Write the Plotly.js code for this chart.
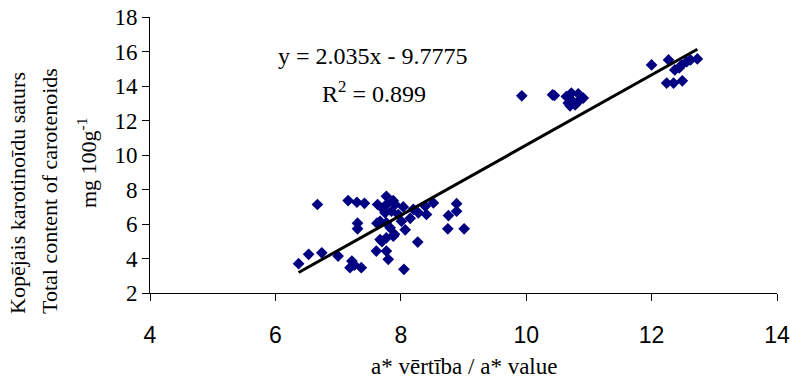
<!DOCTYPE html>
<html>
<head>
<meta charset="utf-8">
<script src="https://cdn.plot.ly/plotly-3.0.1.min.js"></script>
<style>html,body{margin:0;padding:0;background:#fff;}#chart{width:790px;height:378px;}</style>
</head>
<body>
<div id="chart"></div>
<script>
// a* values and total carotenoid content (mg 100g-1)
const aValues = [
  6.37, 6.53, 6.74, 6.67, 7.00, 7.22, 7.19, 7.26, 7.37, 7.16,
  7.30, 7.42, 7.31, 7.31, 7.63, 7.77, 7.77, 7.91, 8.04, 7.75,
  7.85, 7.96, 7.67, 7.77, 7.62, 8.01, 8.15, 7.83, 8.07, 7.67,
  7.77, 7.88, 7.61, 7.77, 7.80, 8.05, 8.28, 8.39, 8.41, 8.52,
  8.27, 8.89, 8.89, 8.76, 8.75, 9.01, 7.72, 7.88, 7.70, 7.90,
  8.20,
  9.93, 10.42, 10.45, 10.64, 10.72, 10.83, 10.91, 10.67, 10.78, 10.83,
  10.72, 10.70,
  12.00, 12.27, 12.37, 12.48, 12.56, 12.73, 12.24, 12.35, 12.49, 12.62,
  12.44
];
const carotenoids = [
  3.70, 4.24, 4.33, 7.13, 4.14, 3.85, 3.47, 3.62, 3.47, 7.36,
  7.26, 7.20, 6.05, 5.72, 7.13, 7.61, 7.13, 7.13, 6.99, 6.65,
  6.74, 6.55, 6.16, 6.07, 6.05, 6.16, 6.33, 5.78, 5.66, 5.10,
  5.20, 5.29, 4.43, 4.43, 3.95, 3.37, 6.65, 7.03, 6.55, 7.22,
  4.95, 7.18, 6.74, 6.49, 5.72, 5.72, 6.85, 7.35, 4.98, 5.40,
  6.85,
  13.43, 13.49, 13.45, 13.39, 13.59, 13.55, 13.30, 13.01, 12.91, 13.10,
  13.20, 12.85,
  15.22, 15.51, 14.93, 15.22, 15.41, 15.57, 14.17, 14.17, 14.30, 15.51,
  15.05
];
const slope = 2.035;
const intercept = -9.7775;
const equationText = "y = 2.035x - 9.7775";
const r2Text = "R<sup>2</sup> = 0.899";
const xTicks = [4, 6, 8, 10, 12, 14];
const yTicks = [2, 4, 6, 8, 10, 12, 14, 16, 18];
const xTitle = "a* vērtība / a* value";
const yTitleLines = ["Kopējais karotinoīdu saturs", "Total content of carotenoids", "mg 100g<sup>-1</sup>"];

const xMin = Math.min(...aValues), xMax = Math.max(...aValues);
const trendX = [xMin, xMax];
const trendY = trendX.map(v => slope * v + intercept);

const serif = "Liberation Serif, Times New Roman, serif";
const sans = "Liberation Sans, Arial, sans-serif";

const data = [
  {
    x: aValues, y: carotenoids, type: 'scatter', mode: 'markers',
    marker: {symbol: 'diamond', size: 9, color: '#000080'},
    hoverinfo: 'x+y'
  },
  {
    x: trendX, y: trendY, type: 'scatter', mode: 'lines',
    line: {color: '#000000', width: 3}, hoverinfo: 'skip'
  }
];

const layout = {
  width: 790, height: 378,
  margin: {l: 150, r: 13, t: 17, b: 85},
  paper_bgcolor: '#ffffff', plot_bgcolor: '#ffffff',
  showlegend: false,
  xaxis: {
    range: [4, 14], tickvals: xTicks, ticktext: xTicks.map(String),
    showgrid: false, zeroline: false, showline: true, linecolor: '#000', linewidth: 1,
    ticks: 'outside', ticklen: 7, tickcolor: '#000', tickwidth: 1,
    ticklabelstandoff: 14,
    tickfont: {family: sans, size: 23, color: '#000'}
  },
  yaxis: {
    range: [2, 18], tickvals: yTicks, ticktext: yTicks.map(String),
    showgrid: false, zeroline: false, showline: true, linecolor: '#000', linewidth: 1,
    ticks: 'outside', ticklen: 7, tickcolor: '#000', tickwidth: 1,
    tickfont: {family: serif, size: 23, color: '#000'}
  },
  annotations: [
    {text: equationText, xref: 'paper', yref: 'paper', x: (373 - 150) / 627, y: 1 - (56 - 17) / 276,
     xanchor: 'center', yanchor: 'middle', showarrow: false, font: {family: serif, size: 24, color: '#000'}},
    {text: r2Text, xref: 'paper', yref: 'paper', x: (374 - 150) / 627, y: 1 - (92 - 17) / 276,
     xanchor: 'center', yanchor: 'middle', showarrow: false, font: {family: serif, size: 24, color: '#000'}},
    {text: xTitle, xref: 'paper', yref: 'paper', x: 0.5, y: -(366 - 293) / 276,
     xanchor: 'center', yanchor: 'middle', showarrow: false, font: {family: serif, size: 23, color: '#000'}},
    {text: yTitleLines[0], xref: 'paper', yref: 'paper', x: (18 - 150) / 627, y: 1 - (193 - 17) / 276,
     xanchor: 'center', yanchor: 'middle', textangle: -90, showarrow: false, font: {family: serif, size: 22, color: '#000'}},
    {text: yTitleLines[1], xref: 'paper', yref: 'paper', x: (49 - 150) / 627, y: 1 - (191 - 17) / 276,
     xanchor: 'center', yanchor: 'middle', textangle: -90, showarrow: false, font: {family: serif, size: 22, color: '#000'}},
    {text: yTitleLines[2], xref: 'paper', yref: 'paper', x: (87 - 150) / 627, y: 1 - (163 - 17) / 276,
     xanchor: 'center', yanchor: 'middle', textangle: -90, showarrow: false, font: {family: serif, size: 22, color: '#000'}}
  ]
};

Plotly.newPlot('chart', data, layout, {displayModeBar: false, staticPlot: true});
</script>
</body>
</html>
